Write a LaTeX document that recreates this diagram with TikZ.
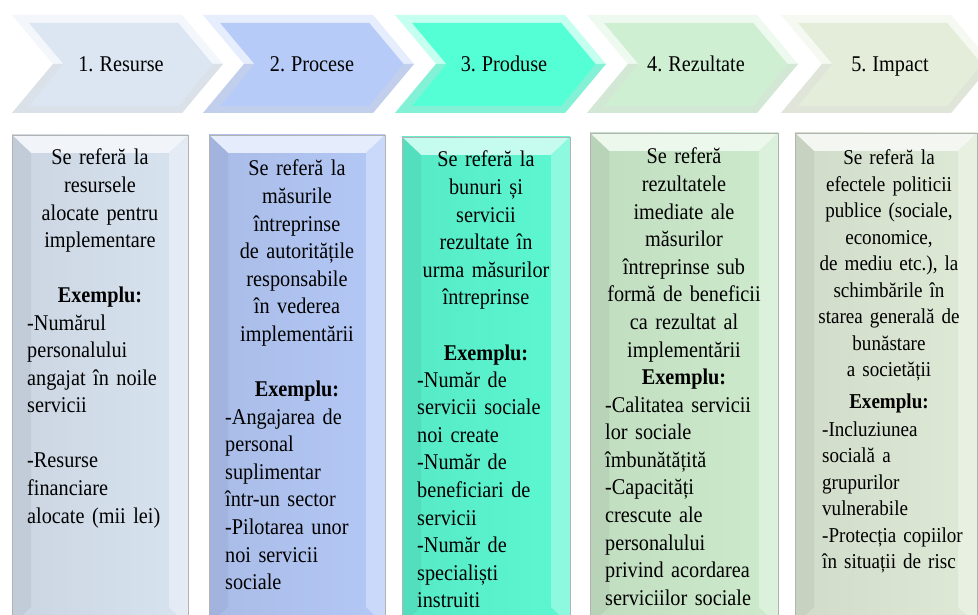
\documentclass[tikz,border=0pt]{standalone}
\usepackage{fontspec}
\setmainfont{Liberation Serif}[FakeStretch=0.9,WordSpace=0.85]
\definecolor{cA}{HTML}{DCE6F2}
\definecolor{cB}{HTML}{B7CBF8}
\definecolor{cC}{HTML}{55FFD5}
\definecolor{cD}{HTML}{CFEFD2}
\definecolor{cE}{HTML}{E3EDD9}
\definecolor{bA}{HTML}{D8E3F0}
\definecolor{bB}{HTML}{B4C8F6}
\definecolor{bC}{HTML}{5CF8D2}
\definecolor{bD}{HTML}{CDEBCC}
\definecolor{bE}{HTML}{DEE9D6}
\newcommand\mychev[2]{%
  \fill[#2!35!white] (#1,15) -- ++(170,0) -- ++(41,49) -- ++(-41,49) -- ++(-170,0) -- ++(41,-49) -- cycle;
  \fill[#2!92!black!70!white] ({#1+41},64) -- ({#1+211},64) -- ({#1+170},113) -- (#1,113) -- cycle;
  \fill[#2] ({#1+17.1},23) -- ({#1+166.3},23) -- ({#1+200.6},64) -- ({#1+166.3},106) -- ({#1+17.1},106) -- ({#1+51.4},64) -- cycle;
}
\newcommand\mybox[4]{%
  \fill[left color=#4!94!black, right color=#4] (#1,#2) rectangle (#3,625);
  \fill[#4!35!white] (#1,#2) -- (#3,#2) -- ({#3-19},{#2+18}) -- ({#1+19},{#2+18}) -- cycle;
  \fill[#4!90!black] (#1,#2) -- ({#1+19},{#2+18}) -- ({#1+19},607) -- (#1,625) -- cycle;
  \fill[#4!70!white] (#3,#2) -- ({#3-19},{#2+18}) -- ({#3-19},607) -- (#3,625) -- cycle;
  \draw[black!30, line width=0.6pt] (#1,625) -- (#1,#2) -- (#3,#2) -- (#3,625);
}
\begin{document}
\begin{tikzpicture}[x=1pt,y=-1pt,
  chevlabel/.style={inner sep=0pt, anchor=base, font=\fontsize{22.5}{27.6}\selectfont},
  desc/.style={inner sep=0pt, anchor=base, align=center, text width=172pt, font=\fontsize{22.5}{27.6}\selectfont},
  lst/.style={inner sep=0pt, anchor=base west, align=left, text width=175pt, font=\fontsize{22.5}{27.6}\selectfont},
  descs/.style={desc, font=\fontsize{21.2}{26.5}\selectfont},
  lsts/.style={lst, font=\fontsize{21.2}{26.5}\selectfont}]
\useasboundingbox (0,0) rectangle (978,615);
\clip (0,0) rectangle (978,615);
\fill[white] (0,0) rectangle (978,615);
% chevrons
\mychev{12}{cA}
\mychev{203}{cB}
\mychev{395}{cC}
\mychev{587}{cD}
\mychev{781}{cE}
\node[chevlabel] (h1) at (121,72) {1. Resurse};
\node[chevlabel] (h2) at (312,72) {2. Procese};
\node[chevlabel] (h3) at (504,72) {3. Produse};
\node[chevlabel] (h4) at (696,72) {4. Rezultate};
\node[chevlabel] (h5) at (890,72) {5. Impact};
% boxes
\mybox{12}{135}{188}{bA}
\mybox{209}{135}{385}{bB}
\mybox{402}{137}{570}{bC}
\mybox{590}{133}{778}{bD}
\mybox{795}{133}{977}{bE}
% column 1
\node[desc] (d1) at (100,165) {Se referă la\\resursele\\alocate pentru\\implementare\\[27.6pt]\textbf{Exemplu:}};
\node[lst] (l1) at (27,330) {-Numărul\\personalului\\angajat în noile\\servicii\\[27.6pt]-Resurse\\financiare\\alocate (mii lei)};
% column 2
\node[desc] (d2) at (297,176) {Se referă la\\măsurile\\întreprinse\\de autoritățile\\responsabile\\în vederea\\implementării\\[27.6pt]\textbf{Exemplu:}};
\node[lst] (l2) at (225,424) {-Angajarea de\\personal\\suplimentar\\într-un sector\\-Pilotarea unor\\noi servicii\\sociale};
% column 3
\node[desc] (d3) at (486,167) {Se referă la\\bunuri și\\servicii\\rezultate în\\urma măsurilor\\întreprinse\\[27.6pt]\textbf{Exemplu:}};
\node[lst] (l3) at (417,387) {-Număr de\\servicii sociale\\noi create\\-Număr de\\beneficiari de\\servicii\\-Număr de\\specialiști\\instruiti};
% column 4
\node[desc] (d4) at (684,164) {Se referă\\rezultatele\\imediate ale\\măsurilor\\întreprinse sub\\formă de beneficii\\ca rezultat al\\implementării\\\textbf{Exemplu:}};
\node[lst] (l4) at (605,412) {-Calitatea servicii\\lor sociale\\îmbunătățită\\-Capacități\\crescute ale\\personalului\\privind acordarea\\serviciilor sociale};
% column 5
\node[descs] (d5) at (889,165) {Se referă la\\efectele politicii\\publice (sociale,\\economice,\\de mediu etc.), la\\schimbările în\\starea generală de\\bunăstare\\a societății\\[5.5pt]\textbf{Exemplu:}};
\node[lsts] (l5) at (822,436) {-Incluziunea\\socială a\\grupurilor\\vulnerabile\\-Protecția copiilor\\în situații de risc};
\end{tikzpicture}
\end{document}
